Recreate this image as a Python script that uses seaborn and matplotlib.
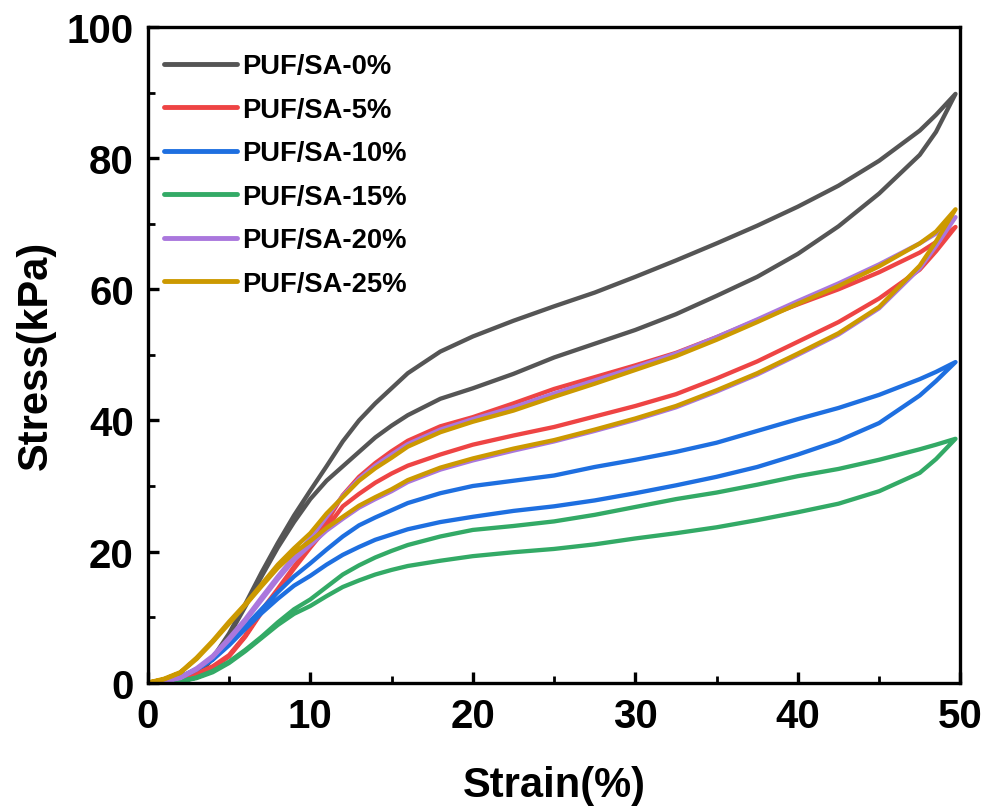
import numpy as np
import pandas as pd
import matplotlib
matplotlib.use("Agg")
import matplotlib.pyplot as plt
import seaborn as sns
from matplotlib.ticker import MultipleLocator

# Strain grid (%) shared by the loading and unloading branches
strain = [0, 1, 2, 3, 4, 5, 6, 7, 8, 9, 10, 11, 12, 13, 14, 15, 16, 18, 20,
          22.5, 25, 27.5, 30, 32.5, 35, 37.5, 40, 42.5, 45, 47.5, 48.5, 49.7]

samples = ["PUF/SA-0%", "PUF/SA-5%", "PUF/SA-10%", "PUF/SA-15%", "PUF/SA-20%", "PUF/SA-25%"]
colors = ["#555555", "#ee4444", "#1e6fe0", "#33aa66", "#aa77dd", "#cc9900"]

# Stress (kPa) on loading
load_0 = [0, 0, 0.3, 1.3, 3.8, 7.5, 12.0, 16.8, 21.3, 25.5, 29.3, 33.0, 36.8, 40.0, 42.6, 44.9, 47.2, 50.5, 52.8,
          55.2, 57.4, 59.5, 61.9, 64.4, 67.0, 69.7, 72.6, 75.8, 79.6, 84.2, 86.6, 89.8]
load_5 = [0, 0, 0.3, 1.4, 2.5, 4.2, 7.2, 11.0, 14.3, 17.7, 21.0, 24.5, 28.6, 31.4, 33.5, 35.3, 36.9, 39.1, 40.5,
          42.6, 44.8, 46.6, 48.4, 50.3, 52.7, 55.3, 57.7, 60.0, 62.6, 65.6, 67.2, 69.5]
load_10 = [0, 0.1, 0.9, 2.1, 3.6, 6.0, 8.6, 11.2, 13.8, 16.2, 18.2, 20.3, 22.3, 24.0, 25.2, 26.3, 27.4, 28.9, 30.0,
           30.8, 31.6, 32.9, 34.0, 35.2, 36.6, 38.4, 40.2, 41.9, 43.9, 46.3, 47.4, 48.9]
load_15 = [0, 0, 0.2, 0.8, 1.8, 3.2, 5.0, 7.0, 9.2, 11.2, 12.7, 14.6, 16.5, 17.9, 19.1, 20.1, 21.0, 22.3, 23.3,
           23.9, 24.6, 25.6, 26.8, 28.0, 29.0, 30.2, 31.5, 32.6, 34.0, 35.6, 36.3, 37.2]
load_20 = [0, 0.2, 0.8, 2.2, 4.1, 6.8, 9.7, 13.0, 16.2, 19.2, 22.0, 25.3, 28.5, 31.1, 33.1, 34.8, 36.4, 38.6, 40.2,
           42.0, 44.1, 46.1, 48.1, 50.2, 52.7, 55.4, 58.2, 60.9, 63.8, 67.0, 68.5, 71.0]
load_25 = [0, 0.6, 1.6, 3.8, 6.4, 9.3, 12.0, 15.0, 18.0, 20.5, 22.8, 25.8, 28.3, 30.8, 32.7, 34.3, 36.0, 38.2, 39.8,
           41.5, 43.6, 45.6, 47.7, 49.8, 52.3, 55.0, 57.8, 60.5, 63.5, 67.0, 68.8, 72.2]

# Stress (kPa) on unloading, listed on the same strain grid
unload_0 = [0, 0, 0.3, 1.2, 3.6, 7.2, 11.6, 16.2, 20.6, 24.5, 28.0, 30.8, 33.0, 35.2, 37.4, 39.2, 40.8, 43.3, 44.9,
            47.1, 49.6, 51.7, 53.8, 56.2, 59.0, 61.9, 65.4, 69.6, 74.6, 80.5, 84.0, 89.8]
unload_5 = [0, 0, 0.2, 1.2, 2.3, 4.0, 7.0, 10.7, 14.0, 17.4, 20.6, 23.6, 26.9, 28.8, 30.5, 31.9, 33.1, 34.8, 36.3,
            37.7, 39.0, 40.6, 42.2, 44.0, 46.4, 49.0, 52.0, 55.0, 58.6, 63.0, 65.8, 69.5]
unload_10 = [0, 0.1, 0.8, 2.0, 3.5, 5.7, 8.2, 10.6, 12.8, 14.8, 16.3, 18.0, 19.5, 20.7, 21.8, 22.6, 23.4, 24.5, 25.3,
             26.2, 26.9, 27.8, 28.9, 30.1, 31.4, 32.9, 34.8, 36.9, 39.6, 43.8, 46.0, 48.9]
unload_15 = [0, 0, 0.2, 0.7, 1.6, 3.0, 4.8, 6.8, 8.8, 10.5, 11.7, 13.2, 14.6, 15.6, 16.5, 17.2, 17.8, 18.6, 19.3,
             19.9, 20.4, 21.1, 22.0, 22.8, 23.7, 24.8, 26.0, 27.3, 29.2, 32.0, 34.1, 37.2]
unload_20 = [0, 0.2, 0.7, 2.0, 3.9, 6.5, 9.4, 12.6, 15.8, 18.7, 21.0, 23.2, 25.0, 26.7, 28.0, 29.2, 30.6, 32.5, 33.9,
             35.4, 36.8, 38.4, 40.1, 42.0, 44.4, 47.0, 50.0, 53.1, 57.1, 63.2, 66.6, 71.0]
unload_25 = [0, 0.5, 1.5, 3.6, 6.2, 9.0, 11.8, 14.7, 17.5, 19.8, 21.6, 23.6, 25.3, 27.0, 28.3, 29.5, 30.9, 32.8, 34.2,
             35.7, 37.0, 38.6, 40.3, 42.2, 44.6, 47.2, 50.2, 53.3, 57.3, 63.6, 67.3, 72.2]

loads = [load_0, load_5, load_10, load_15, load_20, load_25]
unloads = [unload_0, unload_5, unload_10, unload_15, unload_20, unload_25]

# Each hysteresis loop: loading forward, then unloading back to zero strain
rows = []
for name, ld, ul in zip(samples, loads, unloads):
    xs = list(strain) + list(strain[::-1][1:])
    ys = list(ld) + list(ul[::-1][1:])
    for i, (x, y) in enumerate(zip(xs, ys)):
        rows.append({"sample": name, "strain": x, "stress": y, "step": i})
df = pd.DataFrame(rows)

sns.set_theme(style="ticks")
plt.rcParams["font.family"] = ["Liberation Sans", "DejaVu Sans"]
plt.rcParams["font.weight"] = "bold"
plt.rcParams["text.color"] = "black"
plt.rcParams["axes.labelcolor"] = "black"
plt.rcParams["xtick.color"] = "black"
plt.rcParams["ytick.color"] = "black"

fig = plt.figure(figsize=(9.85, 8.12), dpi=100)
ax = fig.add_axes([0.150, 0.158, 0.825, 0.8075])

sns.lineplot(data=df, x="strain", y="stress", hue="sample", hue_order=samples,
             palette=colors, sort=False, estimator=None, linewidth=3.1, ax=ax, legend=False)

ax.set_xlim(0, 50)
ax.set_ylim(0, 100)
ax.xaxis.set_major_locator(MultipleLocator(10))
ax.xaxis.set_minor_locator(MultipleLocator(5))
ax.yaxis.set_major_locator(MultipleLocator(20))
ax.yaxis.set_minor_locator(MultipleLocator(10))

for s in ax.spines.values():
    s.set_linewidth(2.4)
    s.set_color("black")
    s.set_visible(True)

ax.tick_params(which="both", direction="in", top=False, right=False, colors="black")
ax.tick_params(which="major", length=8, width=2.4, labelsize=29, pad=10)
ax.tick_params(which="minor", length=5, width=2.0)
for lbl in ax.get_xticklabels() + ax.get_yticklabels():
    lbl.set_fontweight("bold")
    lbl.set_color("black")

ax.set_xlabel("Strain(%)", fontsize=30, fontweight="bold", labelpad=22, color="black")
ax.set_ylabel("Stress(kPa)", fontsize=30, fontweight="bold", labelpad=8, color="black")

handles = [plt.Line2D([], [], color=c, lw=3.5, solid_capstyle="round") for c in colors]
leg = ax.legend(handles, samples, loc="upper left", bbox_to_anchor=(0.020, 0.960), frameon=False,
                prop={"size": 19.7, "weight": "bold"}, handlelength=2.65, handletextpad=0.22,
                labelspacing=0.64, borderpad=0, borderaxespad=0)
for t in leg.get_texts():
    t.set_color("black")

fig.savefig("out.png", dpi=100)
